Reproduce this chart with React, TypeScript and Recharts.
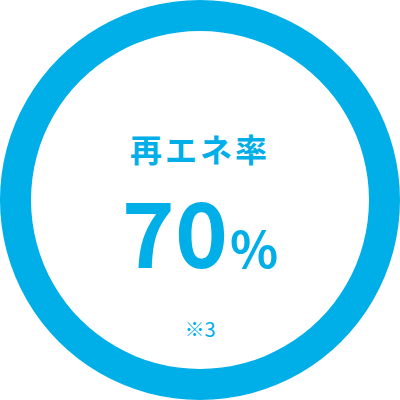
import React from 'react';
import { PieChart, Pie, Cell, Label } from 'recharts';

const ringNames = ['再エネ率'];
const ringValues = [100];
const valueText = ['70'];
const unitText = ['%'];
const noteText = ['※3'];

const COLOR = '#00AEE8';
const FONT = '"Noto Sans CJK JP", "Noto Sans", sans-serif';

const data = ringNames.map((name, i) => ({ name, value: ringValues[i] }));

const CenterContent = (props: any) => {
  const vb = props.viewBox || {};
  const cx = vb.cx ?? 200;
  const cy = vb.cy ?? 200;
  return (
    <g fontFamily={FONT} fill={COLOR}>
      <text x={cx} y={cy - 38} textAnchor="middle" fontSize={32} fontWeight={700} letterSpacing={3}>
        {ringNames[0]}
      </text>
      <text x={cx} y={cy + 68} textAnchor="middle" fontWeight={700}>
        <tspan fontSize={90}>{valueText[0]}</tspan>
        <tspan fontSize={50} dx={2}>{unitText[0]}</tspan>
      </text>
      <text x={cx} y={cy + 137} textAnchor="middle" fontSize={20} fontWeight={400}>
        {noteText[0]}
      </text>
    </g>
  );
};

export default function App() {
  return (
    <div style={{ position: 'absolute', left: 0, top: 0, width: 400, height: 400 }}>
      <PieChart width={400} height={400} margin={{ top: 0, right: 0, bottom: 0, left: 0 }}>
        <Pie
          data={data}
          dataKey="value"
          nameKey="name"
          cx={200}
          cy={200}
          innerRadius={169}
          outerRadius={200}
          startAngle={90}
          endAngle={-270}
          stroke="none"
          isAnimationActive={false}
        >
          {data.map((d) => (
            <Cell key={d.name} fill={COLOR} />
          ))}
          <Label position="center" content={CenterContent} />
        </Pie>
      </PieChart>
    </div>
  );
}
